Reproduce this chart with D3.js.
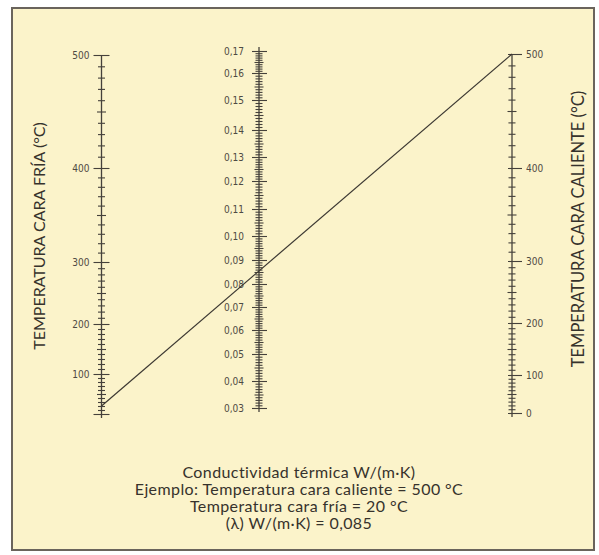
<!DOCTYPE html>
<html>
<head>
<meta charset="utf-8">
<script src="https://cdn.jsdelivr.net/npm/d3@7"></script>
<style>
  body { margin: 0; background: #fff; }
  .title { font-family: Lato, "Open Sans", sans-serif; fill: #36322c; }
</style>
</head>
<body>
<div id="chart"></div>
<script>
// nomogram values
const coldLabels = [100, 200, 300, 400, 500];
const hotLabels = [0, 100, 200, 300, 400, 500];
const condLabels = [0.03, 0.04, 0.05, 0.06, 0.07, 0.08, 0.09, 0.10, 0.11, 0.12, 0.13, 0.14, 0.15, 0.16, 0.17];
const exampleHot = 500;
const exampleCold = 20;
const exampleLambda = 0.085;
const footerLines = [
  'Conductividad térmica W/(m·K)',
  'Ejemplo: Temperatura cara caliente = 500 °C',
  'Temperatura cara fría = 20 °C',
  '(λ) W/(m·K) = 0,085'
];

const width = 599, height = 555;

const svg = d3.select('#chart')
  .append('svg')
  .attr('width', width)
  .attr('height', height);

// cream panel
svg.append('rect')
  .attr('x', 12).attr('y', 8)
  .attr('width', 582).attr('height', 542)
  .attr('fill', '#fbf3ca')
  .attr('stroke', '#6a645c')
  .attr('stroke-width', 2);

// scales (the nomogram is not linear, so piecewise)
const tempDomain = [0, 100, 200, 300, 400, 500];
const coldScale = d3.scaleLinear()
  .domain(tempDomain)
  .range([414, 374, 324, 262, 168, 55]);
const hotScale = d3.scaleLinear()
  .domain(tempDomain)
  .range([413, 375, 323, 261, 168, 54]);
const condScale = d3.scaleLinear()
  .domain(condLabels)
  .range([408, 381, 354, 330, 307, 284, 260, 236, 209, 181, 157, 130, 100, 73, 51]);

const xCold = 101.5, xCond = 259, xHot = 512;

const commaFmt = v => d3.format('.2f')(v).replace('.', ',');

// helper: draw a vertical scale with crossing ticks
function drawScale(x, scale, minor, majors, opts) {
  const g = svg.append('g').attr('transform', 'translate(' + x + ',0)');

  g.append('line')
    .attr('x1', 0).attr('x2', 0)
    .attr('y1', opts.top).attr('y2', opts.bottom)
    .attr('stroke', '#45413b')
    .attr('stroke-width', 1.3);

  const axis = d3.axisLeft(scale)
    .tickValues(minor)
    .tickSize(0)
    .tickFormat('');
  const ag = g.append('g').call(axis);
  ag.select('.domain').remove();
  ag.selectAll('.tick line')
    .attr('x1', d => -opts.size(d)[0])
    .attr('x2', d => opts.size(d)[1])
    .attr('stroke', '#45413b')
    .attr('stroke-width', 1.1);

  // labels
  g.selectAll('.lbl')
    .data(majors)
    .enter()
    .append('text')
    .attr('class', 'lbl')
    .attr('x', opts.labelX)
    .attr('y', d => scale(d))
    .attr('dy', '0.35em')
    .attr('text-anchor', opts.anchor)
    .style('font-family', '"DejaVu Sans Condensed", "DejaVu Sans", sans-serif')
    .style('font-size', '10px')
    .style('fill', '#4e4a43')
    .text(opts.format);
}

const isMajor = (v, step) => Math.abs(v / step - Math.round(v / step)) < 1e-6;

// left: cold face
drawScale(xCold, coldScale, d3.range(0, 501, 10), coldLabels, {
  top: 55, bottom: 418,
  size: d => isMajor(d, 100) ? [8, 8] : (isMajor(d, 50) ? [4.5, 4.5] : [3.5, 3.5]),
  labelX: -12, anchor: 'end', format: d => d
});

// middle: conductivity
drawScale(xCond, condScale, d3.range(30, 171, 1).map(v => v / 1000), condLabels, {
  top: 47, bottom: 412,
  size: d => isMajor(d, 0.01) ? [7, 8] : (isMajor(d, 0.005) ? [4.5, 4.5] : [3.5, 3.5]),
  labelX: -15, anchor: 'end', format: commaFmt
});

// right: hot face
drawScale(xHot, hotScale, d3.range(0, 501, 10), hotLabels, {
  top: 54, bottom: 417,
  size: d => isMajor(d, 100) ? [4, 10] : (isMajor(d, 50) ? [4.5, 4.5] : [3.5, 3.5]),
  labelX: 14, anchor: 'start', format: d => d
});

// example line
svg.append('line')
  .attr('x1', xCold).attr('y1', coldScale(exampleCold))
  .attr('x2', xHot).attr('y2', hotScale(exampleHot))
  .attr('stroke', '#3c3832')
  .attr('stroke-width', 1.2);

// axis titles
svg.append('text')
  .attr('class', 'title')
  .attr('transform', 'translate(45,236) rotate(-90)')
  .attr('text-anchor', 'middle')
  .style('font-size', '16px')
  .text('TEMPERATURA CARA FRÍA (°C)');

svg.append('text')
  .attr('class', 'title')
  .attr('transform', 'translate(584,229) rotate(-90)')
  .attr('text-anchor', 'middle')
  .style('font-size', '16.5px')
  .text('TEMPERATURA CARA CALIENTE (°C)');

// footer
svg.selectAll('.foot')
  .data(footerLines)
  .enter()
  .append('text')
  .attr('class', 'title foot')
  .attr('x', 299)
  .attr('y', (d, i) => 478 + i * 17)
  .attr('text-anchor', 'middle')
  .style('font-size', '16px')
  .style('letter-spacing', '0.4px')
  .text(d => d);
</script>
</body>
</html>
